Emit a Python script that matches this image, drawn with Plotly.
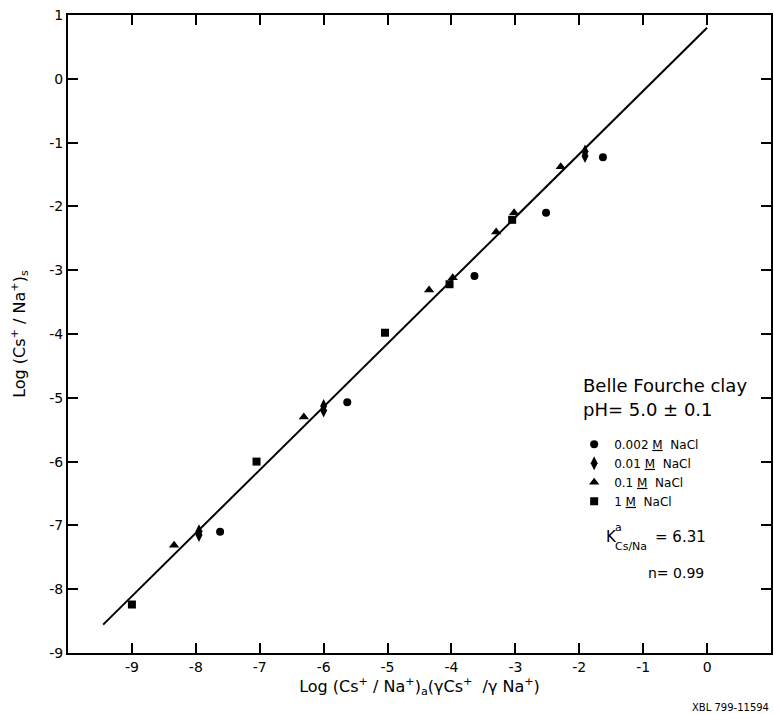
import math
import plotly.graph_objects as go

# Cs/Na exchange on Belle Fourche clay: solid-phase vs. solution-phase ratios
# 0.002 M NaCl
x_0002 = [-7.62, -5.63, -3.64, -2.52, -1.63]
y_0002 = [-7.10, -5.07, -3.09, -2.10, -1.23]
# 0.01 M NaCl
x_001 = [-7.95, -7.95, -6.00, -6.00, -1.91, -1.91]
y_001 = [-7.09, -7.15, -5.13, -5.20, -1.14, -1.21]
# 0.1 M NaCl
x_01 = [-8.34, -6.31, -4.35, -3.98, -3.30, -3.02, -2.29]
y_01 = [-7.31, -5.30, -3.31, -3.12, -2.40, -2.10, -1.38]
# 1 M NaCl
x_1 = [-9.00, -7.05, -5.04, -4.03, -3.05]
y_1 = [-8.24, -6.00, -3.98, -3.22, -2.21]

# fitted exchange line: log(Cs/Na)s = log K + n * log(Cs/Na)a
K_cs_na = 6.31
n_exp = 0.99
fit_x = [-9.45, 0.0]

x_tickvals = [-9, -8, -7, -6, -5, -4, -3, -2, -1, 0, 1]
x_ticktext = ["-9", "-8", "-7", "-6", "-5", "-4", "-3", "-2", "-1", "0", "1"]
y_tickvals = [1, 0, -1, -2, -3, -4, -5, -6, -7, -8, -9]
y_ticktext = ["1", "0", "-1", "-2", "-3", "-4", "-5", "-6", "-7", "-8", "-9"]

fit_y = [math.log10(K_cs_na) + n_exp * v for v in fit_x]

FONT = "DejaVu Sans"
fig = go.Figure()

fig.add_trace(go.Scatter(x=fit_x, y=fit_y, mode="lines",
                         line=dict(color="black", width=2), showlegend=False))

series = [
    (x_0002, y_0002, "circle", 8, "0.002 <u>M</u>  NaCl"),
    (x_001, y_001, "diamond-tall", 10, "0.01 <u>M</u>  NaCl"),
    (x_01, y_01, "triangle-up", 9, "0.1 <u>M</u>  NaCl"),
    (x_1, y_1, "square", 8, "1 <u>M</u>  NaCl"),
]
for xs, ys, sym, sz, name in series:
    fig.add_trace(go.Scatter(x=xs, y=ys, mode="markers", name=name,
                             marker=dict(symbol=sym, size=sz, color="black",
                                         line=dict(width=0))))

axis_common = dict(showline=True, linewidth=2, linecolor="black", mirror="ticks",
                   ticks="inside", ticklen=10, tickwidth=1.5, tickcolor="black",
                   showgrid=False, zeroline=False,
                   tickfont=dict(family=FONT, size=14, color="black"))

fig.update_xaxes(range=[-10, 1], tickvals=x_tickvals, ticktext=x_ticktext,
                 title=dict(text="Log (Cs<sup>+</sup> / Na<sup>+</sup>)<sub>a</sub>(\u03b3Cs<sup>+</sup>  /\u03b3 Na<sup>+</sup>)",
                            font=dict(family=FONT, size=16, color="black"), standoff=2),
                 **axis_common)
fig.update_yaxes(range=[-9, 1], tickvals=y_tickvals, ticktext=y_ticktext,
                 title=dict(text="Log (Cs<sup>+</sup> / Na<sup>+</sup>)<sub>s</sub>",
                            font=dict(family=FONT, size=16, color="black"), standoff=20),
                 **axis_common)

def ann(text, x, y, size, xanchor="left"):
    fig.add_annotation(text=text, x=x, y=y, xref="x", yref="y", showarrow=False,
                       xanchor=xanchor, yanchor="middle",
                       font=dict(family=FONT, size=size, color="black"))

ann("Belle Fourche clay", -1.98, -4.80, 18)
ann("pH= 5.0 \u00b1 0.1", -1.98, -5.19, 18)
ann("K", -1.62, -7.18, 15)
ann("a", -1.47, -7.04, 11)
ann("Cs/Na", -1.47, -7.33, 11)
ann("= 6.31", -0.84, -7.18, 15)
ann("n= 0.99", -0.95, -7.75, 14)

fig.add_annotation(text="XBL 799-11594", xref="paper", yref="paper",
                   x=1.0, y=-0.085, xanchor="right", yanchor="middle", showarrow=False,
                   font=dict(family=FONT, size=10, color="black"))

fig.update_layout(
    width=774, height=714,
    margin=dict(l=68, r=1, t=15, b=61),
    paper_bgcolor="white", plot_bgcolor="white",
    showlegend=True,
    legend=dict(x=0.72, y=0.35, xanchor="left", yanchor="top",
                bgcolor="rgba(0,0,0,0)", borderwidth=0,
                font=dict(family=FONT, size=12, color="black"),
                itemwidth=30, tracegroupgap=0),
)

fig.write_html("out.html")
